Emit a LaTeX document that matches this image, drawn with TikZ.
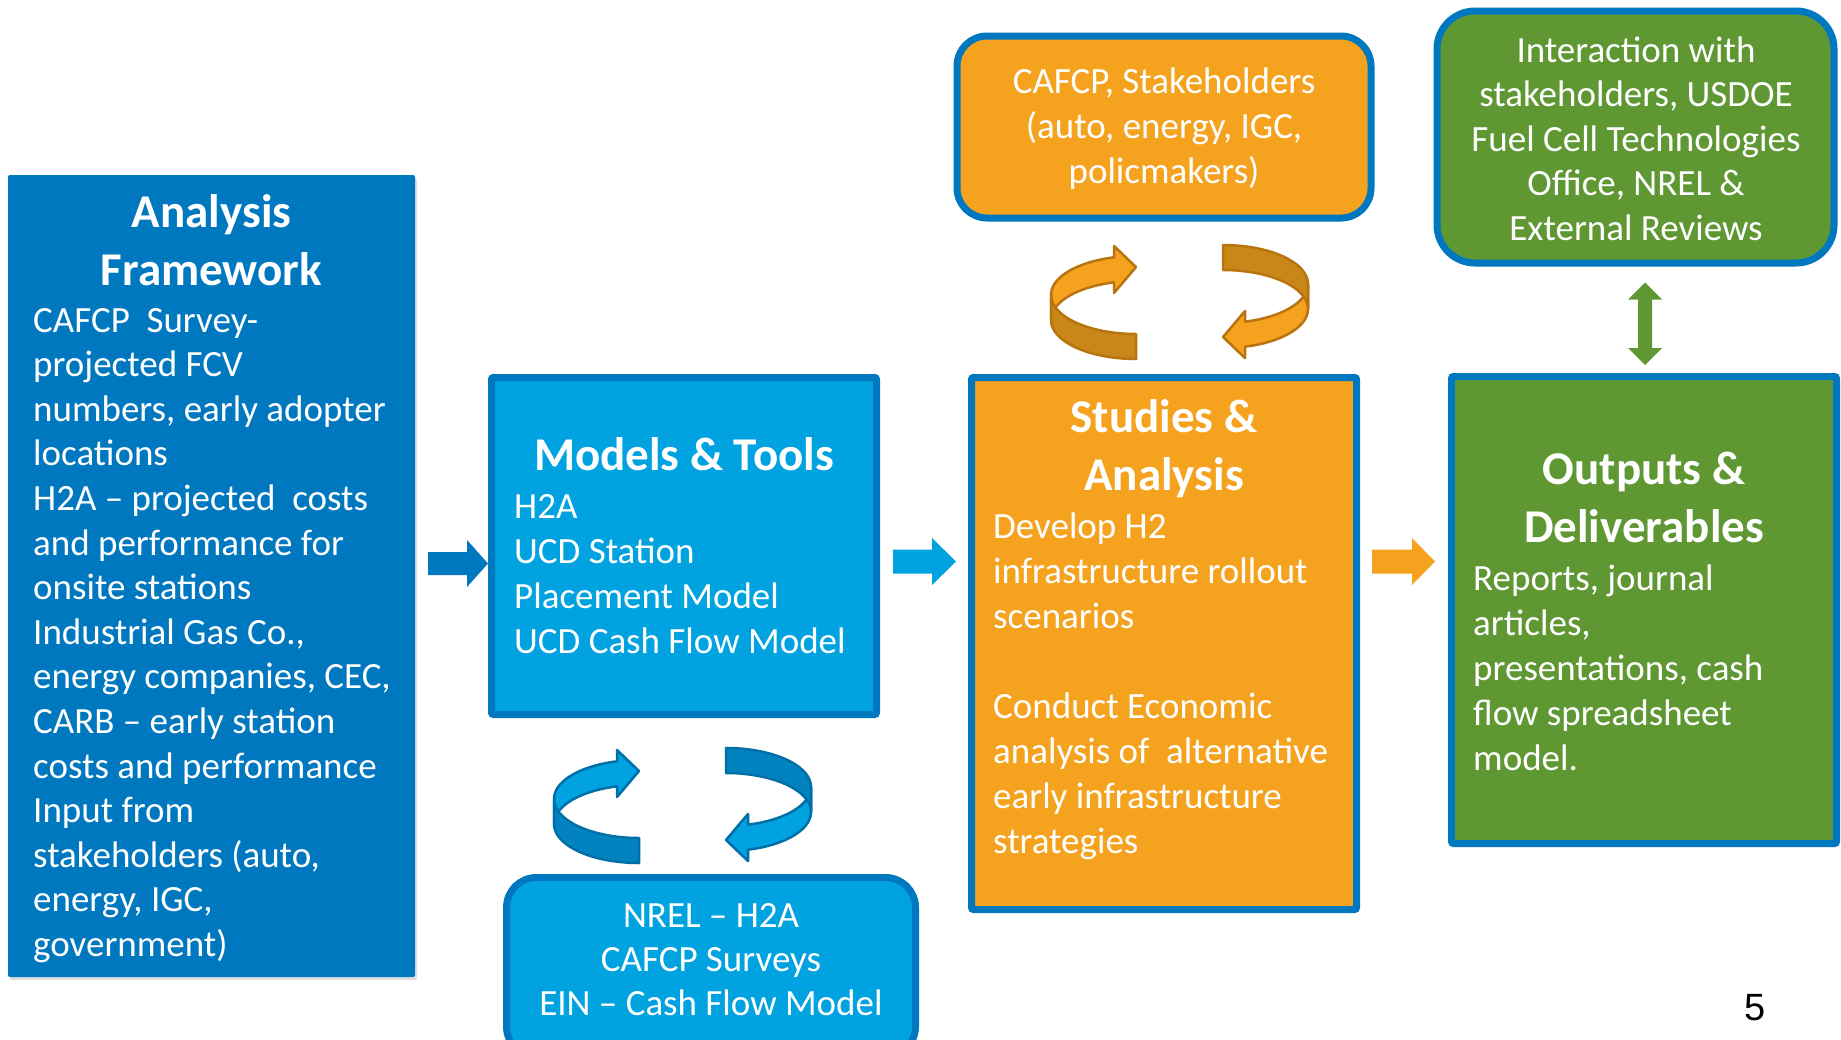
\documentclass[tikz,border=0pt]{standalone}
\usepackage{fontspec}
\setmainfont{Carlito}
\newfontfamily\pagenumfont{Liberation Sans}
\usetikzlibrary{calc,shadows}

\definecolor{fwblue}{HTML}{0078C0}
\definecolor{skyblue}{HTML}{00A3E0}
\definecolor{amber}{HTML}{F5A21E}
\definecolor{leaf}{HTML}{5F9733}
\definecolor{amberdark}{HTML}{C98719}
\definecolor{amberline}{HTML}{B7740F}
\definecolor{skydark}{HTML}{0083BF}
\definecolor{skyline}{HTML}{006FA8}

% horizontal block arrow: start, tip, shaft half-height, head half-height, head length, colour
\newcommand\hblockarrow[6]{%
  \fill[#6] ($(#1)+(0,-#3)$) -- ($(#2)+(-#5,-#3)$) -- ($(#2)+(-#5,-#4)$) -- (#2)
    -- ($(#2)+(-#5,#4)$) -- ($(#2)+(-#5,#3)$) -- ($(#1)+(0,#3)$) -- cycle;}

\tikzset{
  % 3-D ribbon arrow turning round an ellipse: inner face colour, outer face colour, outline
  pics/cyclearrow/.style n args={3}{code={
    \filldraw[fill=#1, draw=#3, line width=2.5pt, line join=round]
      plot[domain=180:255, samples=30] ({85*cos(\x)},{39*sin(\x)})
      -- (-22,-49) -- (0,-28) -- (-22,-2) -- (-22,-12.7)
      -- plot[domain=255:180, samples=30] ({85*cos(\x)},{39*sin(\x)+25}) -- cycle;
    \filldraw[fill=#2, draw=#3, line width=2.5pt, line join=round]
      plot[domain=90:180, samples=30] ({85*cos(\x)},{39*sin(\x)})
      -- plot[domain=180:90, samples=30] ({85*cos(\x)},{39*sin(\x)+25}) -- cycle;
  }}
}

\begin{document}
\begin{tikzpicture}[x=1pt,y=-1pt,
  shadowed/.style={drop shadow={shadow xshift=2pt,shadow yshift=-3pt,opacity=.25}},
  box/.style={rectangle, inner sep=0pt, draw=fwblue, line width=7pt,
    rounded corners=2pt, shadowed},
  roundbox/.style={box, rounded corners=30pt},
  bodytext/.style={text=white, inner sep=0pt, align=left,
    font=\fontsize{37}{45}\selectfont},
  centertext/.style={bodytext, align=center},
  titletext/.style={text=white, inner sep=0pt, align=center,
    font=\bfseries\fontsize{47}{58}\selectfont},
]
\fill[white] (0,0) rectangle (1841,1039);
\useasboundingbox (0,0) rectangle (1841,1039);
\clip (0,0) rectangle (1841,1039);

% ---- boxes ----
\node[rectangle, fill=fwblue, rounded corners=2pt, shadowed,
  minimum width=407pt, minimum height=802pt] (af) at (211.5,576) {};
\node[box, fill=skyblue, minimum width=385pt, minimum height=337pt] (mt) at (684,546) {};
\node[box, fill=amber, minimum width=385pt, minimum height=532pt] (sa) at (1164,643.5) {};
\node[box, fill=leaf, minimum width=385pt, minimum height=467pt] (od) at (1644,610) {};
\node[roundbox, fill=amber, minimum width=414pt, minimum height=182pt] (cafcp) at (1164,127) {};
\node[roundbox, fill=leaf, rounded corners=38pt, minimum width=397pt, minimum height=252pt] (inter) at (1635.5,137) {};
\node[roundbox, fill=skyblue, minimum width=409pt, minimum height=179pt] (nrel) at (711,967) {};

% ---- texts (anchored at the baseline of their last line) ----
\node[titletext, anchor=base] (aft) at (211.5,285) {Analysis\\Framework};
\node[bodytext, anchor=base west, font=\fontsize{37}{44.6}\selectfont] (afb) at (33,956.4)
  {CAFCP\ \ Survey-\\projected FCV\\numbers, early adopter\\locations\\
   H2A -- projected\ \ costs\\and performance for\\onsite stations\\
   Industrial Gas Co.,\\energy companies, CEC,\\CARB -- early station\\
   costs and performance\\Input from\\stakeholders (auto,\\energy, IGC,\\government)};

\node[titletext, anchor=base] (mtt) at (684,470) {Models \& Tools};
\node[bodytext, anchor=base west] (mtb) at (514,653)
  {H2A\\UCD Station\\Placement Model\\UCD Cash Flow Model};

\node[titletext, anchor=base] (sat) at (1164,490) {Studies \&\\Analysis};
\node[bodytext, anchor=base west] (sab) at (993,853)
  {Develop H2\\infrastructure rollout\\scenarios\\[45pt]Conduct Economic\\
   analysis of\ \ alternative\\early infrastructure\\strategies};

\node[titletext, anchor=base] (odt) at (1644,542) {Outputs \&\\Deliverables};
\node[bodytext, anchor=base west] (odb) at (1473,770)
  {Reports, journal\\articles,\\presentations, cash\\flow spreadsheet\\model.};

\node[centertext, anchor=base] (cafcpt) at (1164,183)
  {CAFCP, Stakeholders\\(auto, energy, IGC,\\policmakers)};
\node[centertext, anchor=base, font=\fontsize{37}{44.5}\selectfont] (intert) at (1636,240)
  {Interaction with\\stakeholders, USDOE\\Fuel Cell Technologies\\Office, NREL \&\\External Reviews};
\node[centertext, anchor=base, font=\fontsize{37}{44}\selectfont] (nrelt) at (711,1015)
  {NREL -- H2A\\CAFCP Surveys\\EIN -- Cash Flow Model};

\node[anchor=base, inner sep=0pt, font=\pagenumfont\fontsize{38}{40}\selectfont] (pnum) at (1755,1020) {5};

% ---- block arrows between the main stages ----
\coordinate (d1) at ($(af.east)+(13,-12.5)$);
\coordinate (d2) at (mt.west |- d1);
\hblockarrow{d1}{d2}{11.5}{23.5}{21}{fwblue}

\coordinate (l1) at ($(mt.east)+(13,15.5)$);
\coordinate (l2) at ($(sa.west |- l1)+(-12,0)$);
\hblockarrow{l1}{l2}{12}{23.5}{24}{skyblue}

\coordinate (o1) at ($(sa.east)+(12,0)$);
\coordinate (o1) at (o1 |- l1);
\coordinate (o2) at ($(od.west |- o1)+(-13,0)$);
\hblockarrow{o1}{o2}{12}{23.5}{23}{amber}

% ---- two-way arrow between reviews and outputs ----
\coordinate (g1) at ($(inter.south)+(9.5,16)$);
\coordinate (g2) at ($(od.north)+(1,-8)$);
\fill[leaf] (g1) -- ($(g1)+(17,17)$) -- ($(g1)+(7,17)$) -- ($(g2)+(7,-17)$)
  -- ($(g2)+(17,-17)$) -- (g2) -- ($(g2)+(-17,-17)$) -- ($(g2)+(-7,-17)$)
  -- ($(g1)+(-7,17)$) -- ($(g1)+(-17,17)$) -- cycle;

% ---- feedback cycles ----
\pic at (1136,295) {cyclearrow={amber}{amberdark}{amberline}};
\pic[rotate=180] at (1223,309) {cyclearrow={amber}{amberdark}{amberline}};
\pic at (639,799) {cyclearrow={skyblue}{skydark}{skyline}};
\pic[rotate=180] at (726,812) {cyclearrow={skyblue}{skydark}{skyline}};
\end{tikzpicture}
\end{document}
